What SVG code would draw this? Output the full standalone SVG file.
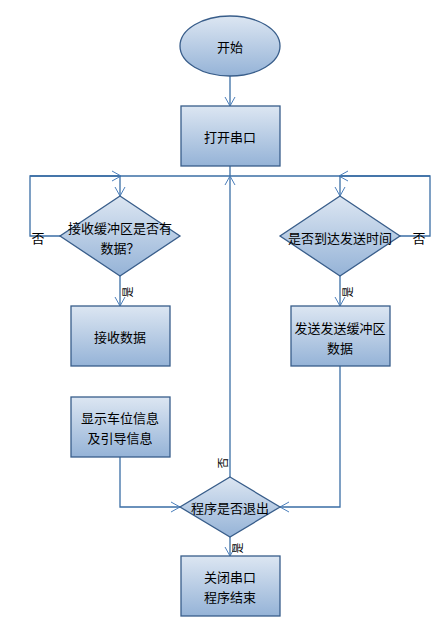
<svg xmlns="http://www.w3.org/2000/svg" width="445" height="625" viewBox="0 0 445 625">
<defs>
<linearGradient id="g" x1="0" y1="0" x2="0" y2="1">
<stop offset="0" stop-color="#dce6f2"/>
<stop offset="1" stop-color="#95b3d7"/>
</linearGradient>
<marker id="a" markerUnits="userSpaceOnUse" markerWidth="12" markerHeight="12" viewBox="0 0 12 12" refX="10" refY="6" orient="auto">
<path d="M1,1 L10,6 L1,11" fill="none" stroke="#4a7ebb" stroke-width="1"/>
</marker>
</defs>
<style>
.s{fill:url(#g);stroke:#385d8a;stroke-width:1.3}
.t{font-family:"Noto Sans CJK SC","Liberation Sans",sans-serif;font-size:13px;fill:#000;text-anchor:middle;dominant-baseline:central}
.l{font-family:"Noto Sans CJK SC","Liberation Sans",sans-serif;font-size:11px;fill:#000;text-anchor:middle;dominant-baseline:central}
.c{fill:none;stroke:#3a6ea5;stroke-width:1.3}
</style>
<rect width="445" height="625" fill="#fff"/>
<g id="connectors">
<path class="c" d="M230,76 V106" marker-end="url(#a)"/>
<path class="c" d="M230,166 V176"/>
<path class="c" d="M30,176 H430"/>
<path class="c" d="M60,236 H30 V176 H121" marker-end="url(#a)"/>
<path class="c" d="M120,176 V196" marker-end="url(#a)"/>
<path class="c" d="M400,236 H430 V176 H339" marker-end="url(#a)"/>
<path class="c" d="M340,176 V196" marker-end="url(#a)"/>
<path class="c" d="M120,276 V306" marker-end="url(#a)"/>
<path class="c" d="M340,276 V306" marker-end="url(#a)"/>
<path class="c" d="M120,457 V507 H180" marker-end="url(#a)"/>
<path class="c" d="M340,366 V507 H280" marker-end="url(#a)"/>
<path class="c" d="M230,477 V176" marker-end="url(#a)"/>
<path class="c" d="M230,537 V556" marker-end="url(#a)"/>
<text class="t" x="38" y="237">否</text>
<text class="t" x="419" y="237">否</text>
<text class="l" transform="translate(127,292) rotate(-90)">是</text>
<text class="l" transform="translate(347,292) rotate(-90)">是</text>
<text class="l" transform="translate(222,463) rotate(-90)">否</text>
<text class="l" transform="translate(237,548) rotate(-90)">是</text>
</g>
<g id="start"><ellipse class="s" cx="230" cy="46" rx="50" ry="30"/><text class="t" x="230" y="46">开始</text></g>
<g id="open"><rect class="s" x="181" y="106" width="99" height="60"/><text class="t" x="230" y="136">打开串口</text></g>
<g id="recvq"><path class="s" d="M120,196 L180,236 L120,276 L60,236 Z"/><text class="t" x="120" y="227">接收缓冲区是否有</text><text class="t" x="120" y="247">数据？</text></g>
<g id="sendq"><path class="s" d="M340,196 L400,236 L340,276 L280,236 Z"/><text class="t" x="340" y="237">是否到达发送时间</text></g>
<g id="recv"><rect class="s" x="71" y="306" width="99" height="60"/><text class="t" x="120" y="336">接收数据</text></g>
<g id="send"><rect class="s" x="291" y="306" width="99" height="60"/><text class="t" x="340" y="327">发送发送缓冲区</text><text class="t" x="340" y="347">数据</text></g>
<g id="show"><rect class="s" x="71" y="397" width="99" height="60"/><text class="t" x="120" y="417">显示车位信息</text><text class="t" x="120" y="437">及引导信息</text></g>
<g id="exitq"><path class="s" d="M230,477 L280,507 L230,537 L180,507 Z"/><text class="t" x="230" y="507">程序是否退出</text></g>
<g id="close"><rect class="s" x="181" y="556" width="99" height="60"/><text class="t" x="230" y="576">关闭串口</text><text class="t" x="230" y="596">程序结束</text></g>
</svg>
